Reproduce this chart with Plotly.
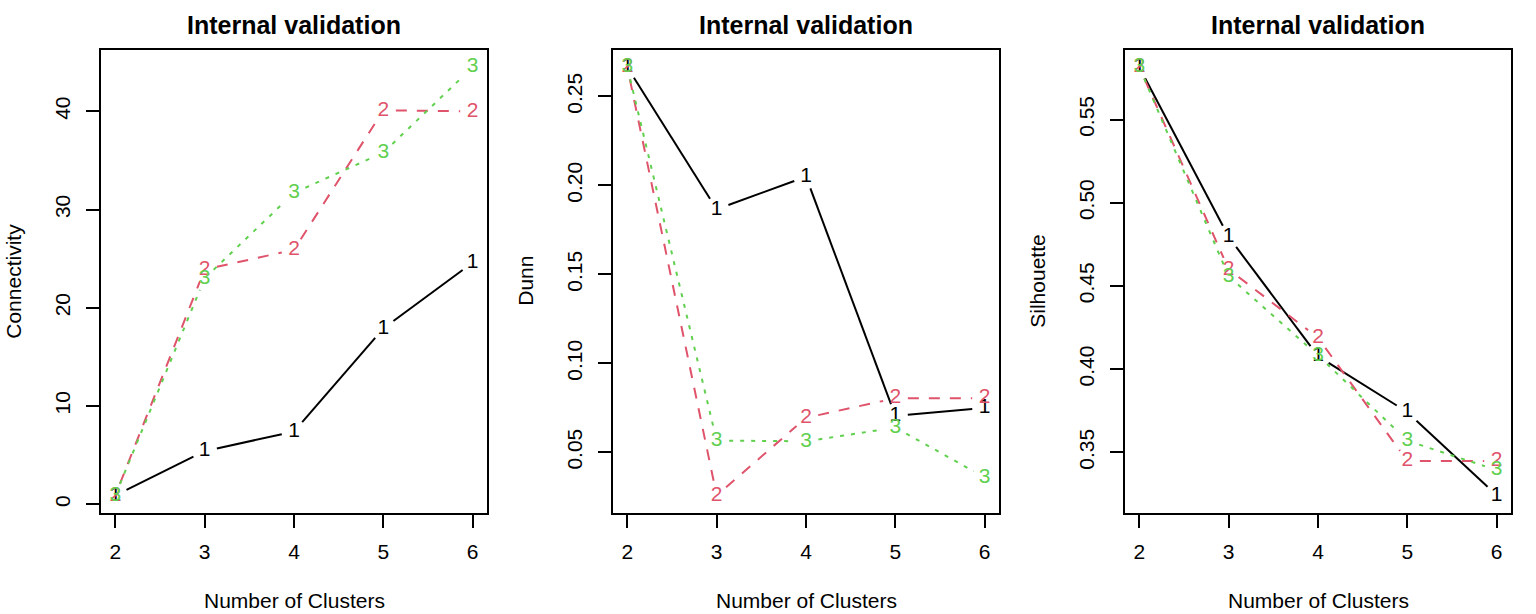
import math
import plotly.graph_objects as go

# ---------------- data ----------------
clusters = [2, 3, 4, 5, 6]
series_labels = ["1", "2", "3"]

connectivity_1 = [0.9, 5.4, 7.4, 17.9, 24.6]
connectivity_2 = [0.9, 23.9, 25.9, 40.1, 40.0]
connectivity_3 = [0.9, 23.0, 31.7, 35.8, 44.5]

dunn_1 = [0.2665, 0.1866, 0.2049, 0.0705, 0.0749]
dunn_2 = [0.2665, 0.0258, 0.0694, 0.0804, 0.0804]
dunn_3 = [0.2665, 0.0566, 0.0562, 0.0639, 0.0359]

silhouette_1 = [0.5815, 0.4795, 0.4078, 0.3742, 0.3242]
silhouette_2 = [0.5815, 0.4600, 0.4189, 0.3448, 0.3448]
silhouette_3 = [0.5815, 0.4558, 0.4083, 0.3570, 0.3394]

panel_titles = ["Internal validation", "Internal validation", "Internal validation"]
y_titles = ["Connectivity", "Dunn", "Silhouette"]
x_title = "Number of Clusters"
y_tickvals = [[0, 10, 20, 30, 40],
              [0.05, 0.10, 0.15, 0.20, 0.25],
              [0.35, 0.40, 0.45, 0.50, 0.55]]
y_ticktext = [["0", "10", "20", "30", "40"],
              ["0.05", "0.10", "0.15", "0.20", "0.25"],
              ["0.35", "0.40", "0.45", "0.50", "0.55"]]

panels = [
    [connectivity_1, connectivity_2, connectivity_3],
    [dunn_1, dunn_2, dunn_3],
    [silhouette_1, silhouette_2, silhouette_3],
]

# ---------------- style ----------------
W, H = 1536, 614
colors = ["#000000", "#DF536B", "#61D04F"]
dashes = ["solid", "11px,10px", "4px,7px"]
FONT = "Liberation Sans, Arial, Helvetica, sans-serif"
PANEL_W = 512
BOX_L, BOX_R = 101, 487
BOX_T, BOX_B = 50, 512.5
GAP = 12.5  # px gap between line ends and point labels (R type = "b")


def r_range(vals):
    lo, hi = min(vals), max(vals)
    span = hi - lo
    return [lo - 0.04 * span, hi + 0.04 * span]


fig = go.Figure()
annotations = []

for p, series in enumerate(panels):
    ax = "" if p == 0 else str(p + 1)
    xref, yref = "x" + ax, "y" + ax
    left = BOX_L + PANEL_W * p
    right = BOX_R + PANEL_W * p
    xr = r_range(clusters)
    yr = r_range([v for s in series for v in s])
    sx = (right - left) / (xr[1] - xr[0])
    sy = (BOX_B - BOX_T) / (yr[1] - yr[0])

    for k, vals in enumerate(series):
        # gapped line segments (like R's type = "b")
        lx, ly = [], []
        for j in range(len(clusters) - 1):
            x0, y0 = clusters[j], vals[j]
            x1, y1 = clusters[j + 1], vals[j + 1]
            dxp = (x1 - x0) * sx
            dyp = (y1 - y0) * sy
            L = math.hypot(dxp, dyp)
            if L <= 2 * GAP:
                continue
            fx = GAP / L
            lx += [x0 + (x1 - x0) * fx, x1 - (x1 - x0) * fx, None]
            ly += [y0 + (y1 - y0) * fx, y1 - (y1 - y0) * fx, None]
        fig.add_trace(go.Scatter(
            x=lx, y=ly, mode="lines", xaxis=xref, yaxis=yref,
            line=dict(color=colors[k], width=2, dash=dashes[k]),
            showlegend=False, hoverinfo="skip"))
        fig.add_trace(go.Scatter(
            x=clusters, y=vals, mode="text", xaxis=xref, yaxis=yref,
            text=[series_labels[k]] * len(clusters),
            textposition="middle center",
            textfont=dict(family=FONT, size=21, color=colors[k]),
            showlegend=False))

    xdom = [left / W, right / W]
    ydom = [1 - BOX_B / H, 1 - BOX_T / H]
    common = dict(showline=True, linecolor="black", linewidth=2, mirror=True,
                  showgrid=False, zeroline=False, ticks="outside", ticklen=13,
                  tickwidth=2, tickcolor="black",
                  tickfont=dict(family=FONT, size=21, color="black"))
    fig.update_layout(**{
        "xaxis" + ax: dict(domain=xdom, range=xr, tickvals=clusters,
                           ticktext=[str(c) for c in clusters],
                           anchor=yref, ticklabelstandoff=6, **common),
        "yaxis" + ax: dict(domain=ydom, range=yr, tickvals=y_tickvals[p],
                           ticktext=y_ticktext[p], tickangle=-90,
                           anchor=xref, ticklabelstandoff=8, **common),
    })

    cx = (left + right) / 2 / W
    annotations.append(dict(text="<b>" + panel_titles[p] + "</b>", x=cx, y=1 - 25 / H,
                            xref="paper", yref="paper", showarrow=False,
                            xanchor="center", yanchor="middle",
                            font=dict(family=FONT, size=25, color="black")))
    annotations.append(dict(text=x_title, x=cx, y=1 - 600 / H,
                            xref="paper", yref="paper", showarrow=False,
                            xanchor="center", yanchor="middle",
                            font=dict(family=FONT, size=21, color="black")))
    annotations.append(dict(text=y_titles[p], x=(13.5 + PANEL_W * p) / W,
                            y=1 - ((BOX_T + BOX_B) / 2) / H,
                            xref="paper", yref="paper", showarrow=False,
                            textangle=-90, xanchor="center", yanchor="middle",
                            font=dict(family=FONT, size=21, color="black")))

fig.update_layout(width=W, height=H, margin=dict(l=0, r=0, t=0, b=0),
                  paper_bgcolor="white", plot_bgcolor="white",
                  annotations=annotations, showlegend=False)

fig.write_html("out.html")
